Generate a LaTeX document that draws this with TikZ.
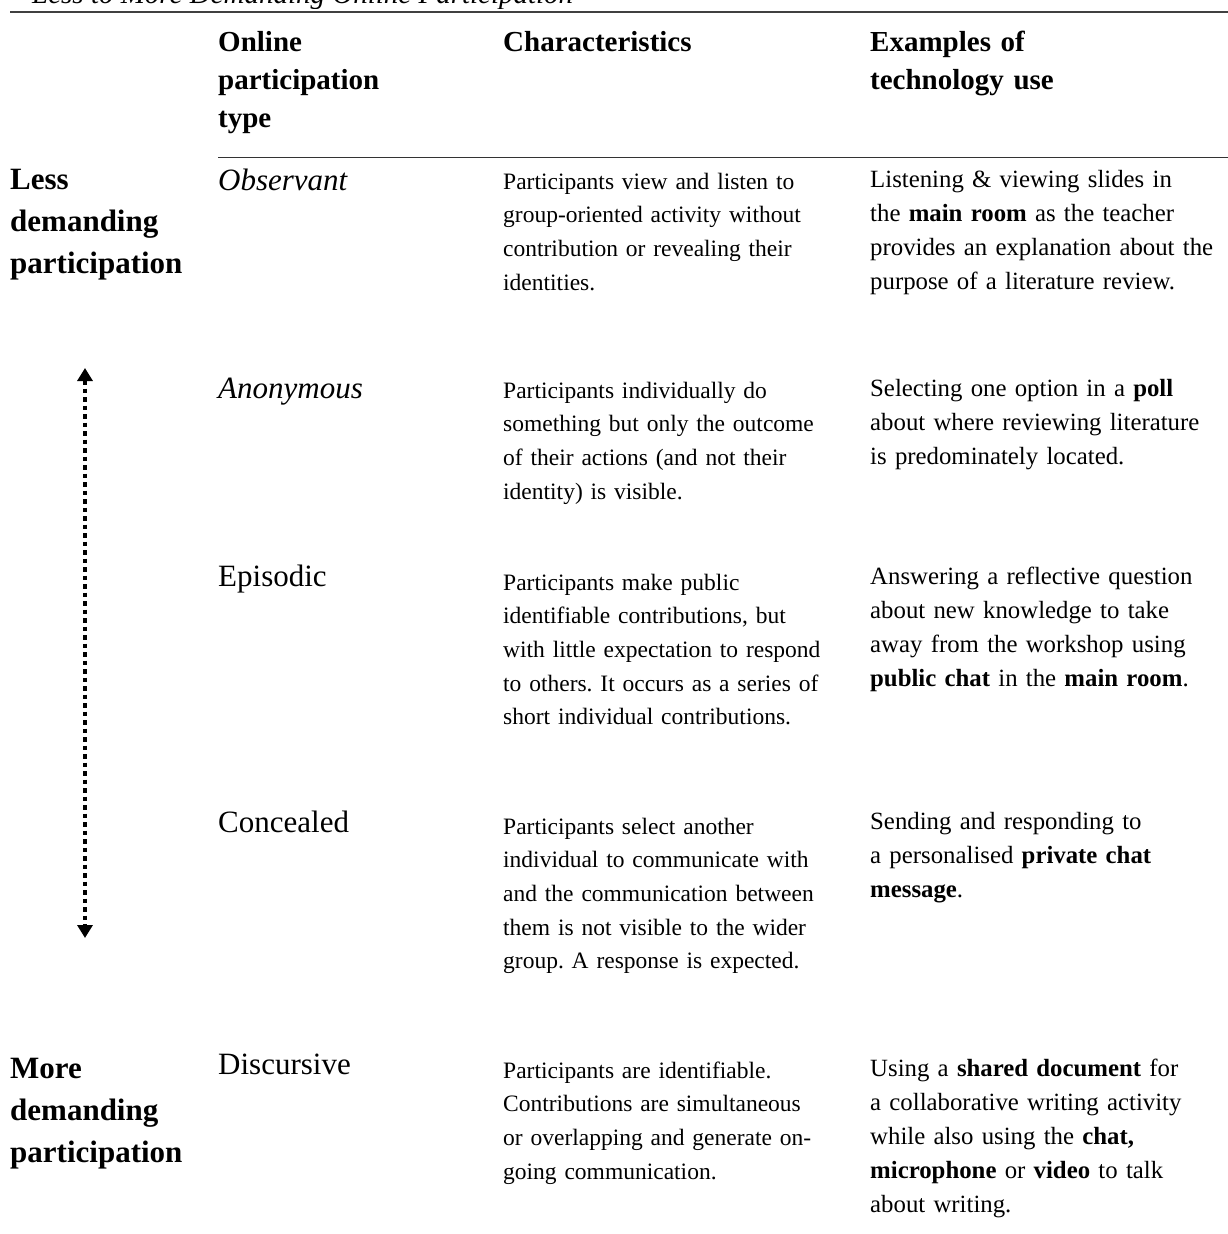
\documentclass[tikz,border=0pt]{standalone}
\usepackage{fontspec}
\setmainfont{Liberation Serif}
\usetikzlibrary{arrows.meta}
\tikzset{
  cell/.style={inner sep=0pt, anchor=base west, align=left, text width=#1},
  cell/.default=330pt,
  hdr/.style={cell=300pt, font=\fontsize{29}{38}\selectfont\bfseries},
  side/.style={cell=200pt, font=\fontsize{31}{42}\selectfont\bfseries},
  lbl/.style={cell=260pt, font=\fontsize{31}{38}\selectfont},
  lbli/.style={cell=260pt, font=\fontsize{31}{38}\selectfont\itshape},
  body/.style={cell=360pt, font=\fontsize{23.5}{33.7}\selectfont},
  ex/.style={cell=370pt, font=\fontsize{24.8}{34}\selectfont},
  rule/.style={line width=1.1pt, black!75},
  scalearrow/.style={line width=4.5pt, dash pattern=on 4.5pt off 4pt, {Triangle[width=15pt,length=13pt]}-{Triangle[width=15pt,length=13pt]}}
}
\begin{document}
\frenchspacing
\begin{tikzpicture}[x=1pt,y=-1pt]
\useasboundingbox (0,0) rectangle (1228,1234);
\begin{scope}
\clip (0,0) rectangle (1228,8);
\node[inner sep=0pt, anchor=base west, font=\fontsize{29}{32}\selectfont\itshape] (title) at (32,3) {Less to More Demanding Online Participation};
\end{scope}
\draw[rule] (10,12) coordinate (t1) -- (1228,12) coordinate (t2);
\node[hdr] (h1) at (218,51) {Online\\participation\\type};
\node[hdr] (h2) at (503,51) {Characteristics};
\node[hdr] (h3) at (870,51) {Examples of\\technology use};
\draw[line width=0.8pt, black!80] (218,157) coordinate (m1) -- (1228,157) coordinate (m2);
% left labels
\node[side] (less) at (10,189) {Less\\demanding\\participation};
\node[side] (more) at (10,1078) {More\\demanding\\participation};
% row 1
\node[lbli] (l1) at (218,190) {Observant};
\node[body] (c1) at (503,189) {Participants view and listen to\\group-oriented activity without\\contribution or revealing their\\identities.};
\node[ex] (e1) at (870,187) {Listening \& viewing slides in\\the \textbf{main room} as the teacher\\provides an explanation about the\\purpose of a literature review.};
% row 2
\node[lbli] (l2) at (218,398) {Anonymous};
\node[body] (c2) at (503,398) {Participants individually do\\something but only the outcome\\of their actions (and not their\\identity) is visible.};
\node[ex] (e2) at (870,396) {Selecting one option in a \textbf{poll}\\about where reviewing literature\\is predominately located.};
% row 3
\node[lbl] (l3) at (218,586) {Episodic};
\node[body] (c3) at (503,590) {Participants make public\\identifiable contributions, but\\with little expectation to respond\\to others. It occurs as a series of\\short individual contributions.};
\node[ex] (e3) at (870,584) {Answering a reflective question\\about new knowledge to take\\away from the workshop using\\\textbf{public chat} in the \textbf{main room}.};
% row 4
\node[lbl] (l4) at (218,832) {Concealed};
\node[body] (c4) at (503,834) {Participants select another\\individual to communicate with\\and the communication between\\them is not visible to the wider\\group. A response is expected.};
\node[ex] (e4) at (870,829) {Sending and responding to\\a personalised \textbf{private chat}\\\textbf{message}.};
% row 5
\node[lbl] (l5) at (218,1074) {Discursive};
\node[body] (c5) at (503,1078) {Participants are identifiable.\\Contributions are simultaneous\\or overlapping and generate on-\\going communication.};
\node[ex] (e5) at (870,1076) {Using a \textbf{shared document} for\\a collaborative writing activity\\while also using the \textbf{chat,}\\\textbf{microphone} or \textbf{video} to talk\\about writing.};
% arrow
\coordinate (atop) at (85,368);
\coordinate (abot) at (85,938);
\draw[scalearrow] (atop) -- (abot);
\end{tikzpicture}
\end{document}
